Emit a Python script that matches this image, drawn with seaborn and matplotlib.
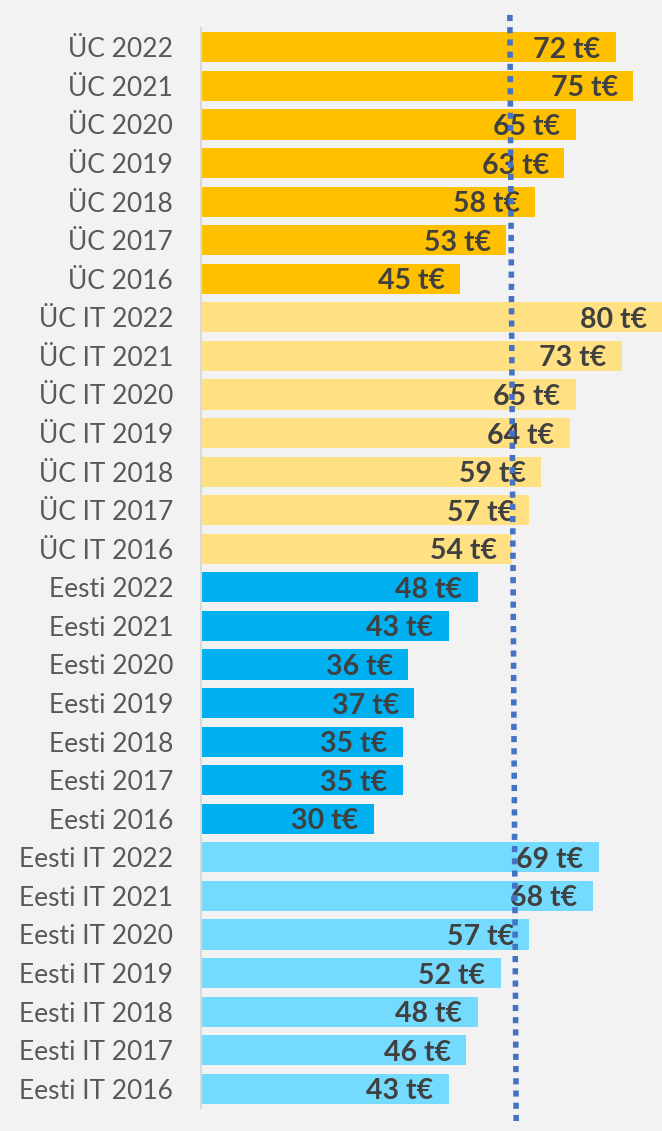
import matplotlib
matplotlib.use("Agg")
import matplotlib.pyplot as plt
import seaborn as sns
import pandas as pd

# data (thousands of euros)
years = [2022, 2021, 2020, 2019, 2018, 2017, 2016]
groups = ['ÜC', 'ÜC IT', 'Eesti', 'Eesti IT']
uc = [72, 75, 65, 63, 58, 53, 45]
uc_it = [80, 73, 65, 64, 59, 57, 54]
eesti = [48, 43, 36, 37, 35, 35, 30]
eesti_it = [69, 68, 57, 52, 48, 46, 43]
avg_line = [53.6, 54.7]  # dotted reference line (top, bottom)

colors = {'ÜC': '#ffc000', 'ÜC IT': '#ffe083', 'Eesti': '#00b0f0', 'Eesti IT': '#75dbfe'}

rows = []
for g, vals in zip(groups, [uc, uc_it, eesti, eesti_it]):
    for y, v in zip(years, vals):
        rows.append({'label': f'{g} {y}', 'group': g, 'value': v})
df = pd.DataFrame(rows)

sns.set_style('white')
plt.rcParams['font.family'] = ['Lato', 'DejaVu Sans']

fig = plt.figure(figsize=(6.62, 11.31), dpi=100, facecolor='#f2f2f2')
ax = fig.add_axes([0.3036, 0.0203, 0.6964, 0.9549])
ax.set_facecolor('#f2f2f2')

sns.barplot(data=df, x='value', y='label', hue='group', palette=colors,
            dodge=False, width=0.78, saturation=1, legend=False,
            linewidth=0, ax=ax)

for c in ax.containers:
    texts = ax.bar_label(c, fmt='{:.0f} t€', padding=-11, fontsize=20.5,
                         fontweight='bold', color='#404040')
    for t in texts:
        t.set_ha('right')
        t.xyann = (t.xyann[0], -1.8)

n = len(df)
ax.plot(avg_line, [-0.84, n - 0.06], color='#4472c4', lw=4.0,
        linestyle=(0, (1.1, 1.1)), clip_on=False, zorder=5)

ax.set_xlim(0, 80)
ax.set_ylim(n - 0.5, -0.5)
ax.set_xlabel('')
ax.set_ylabel('')
ax.set_xticks([])
ax.tick_params(axis='y', length=0, pad=20, labelsize=19, labelcolor='#595959')
for s in ['top', 'right', 'bottom']:
    ax.spines[s].set_visible(False)
ax.spines['left'].set_color('#d9d9d9')
ax.spines['left'].set_linewidth(1.5)

fig.savefig('out.png', dpi=100, facecolor='#f2f2f2')
